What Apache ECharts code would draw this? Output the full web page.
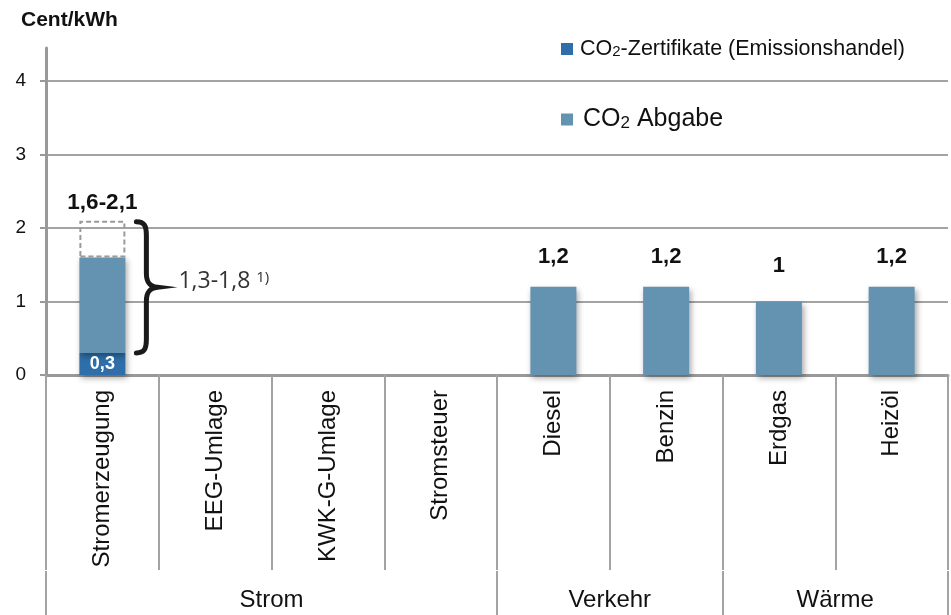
<!DOCTYPE html>
<html>
<head>
<meta charset="utf-8">
<script src="https://cdn.jsdelivr.net/npm/echarts@6/dist/echarts.min.js"></script>
<style>
  html, body { margin: 0; padding: 0; background: #fff; }
  #chart { width: 951px; height: 615px; }
</style>
</head>
<body>
<div id="chart"></div>
<script>
// Kategorien und Gruppen
const categories = ['Stromerzeugung', 'EEG-Umlage', 'KWK-G-Umlage', 'Stromsteuer', 'Diesel', 'Benzin', 'Erdgas', 'Heizöl']
const groups = ['Strom', 'Verkehr', 'Wärme']
const groupSizes = [4, 2, 2]

// Werte in Cent/kWh
const zertifikate = [0.3, '-', '-', '-', '-', '-', '-', '-']
const abgabe = [1.3, '-', '-', '-', 1.2, 1.2, 1.0, 1.2]
const spanne = [0.5, '-', '-', '-', '-', '-', '-', '-']   // gestrichelter Bereich 1,6 - 2,1
const topLabels = ['1,6-2,1', '', '', '', '1,2', '1,2', '1', '1,2']
const zertLabels = ['0,3', '', '', '', '', '', '', '']

// Klammer neben Stromerzeugung
const braceData = [[0, 0.3, 2.1]]
const braceText = '1,3-1,8'
const braceNote = '1)'

const yTicks = [0, 1, 2, 3, 4]

const serieNames = ['CO2-Zertifikate (Emissionshandel)', 'CO2 Abgabe']

// Gruppengrenzen / -mitten auf der Hilfsachse
let groupBounds = [0]
let groupMids = []
groupSizes.forEach((n, i) => {
  let start = groupBounds[i]
  groupMids.push(start + n / 2)
  groupBounds.push(start + n)
})

const gray = '#a3a3a3'
const dark = '#2e6fa9'
const light = '#6492b1'
const barShadow = { shadowBlur: 6, shadowColor: 'rgba(0,0,0,0.35)', shadowOffsetX: 2, shadowOffsetY: 3 }

function legendFmt(name) {
  return name.replace('CO2', '{n|CO}{s|2}{n|').concat('}')
}

let chart = echarts.init(document.getElementById('chart'))

let option = {
  animation: false,
  textStyle: { fontFamily: 'Liberation Sans, Arial, sans-serif' },
  title: {
    text: 'Cent/kWh',
    left: 16,
    top: 5,
    textStyle: { fontSize: 21, fontWeight: 'bold', color: '#111', fontFamily: 'Liberation Sans' }
  },
  legend: [
    {
      data: [serieNames[0]],
      left: 556,
      top: 33,
      icon: 'rect',
      itemWidth: 12,
      itemHeight: 12,
      selectedMode: false,
      formatter: legendFmt,
      textStyle: {
        padding: [0, 0, 0, 2],
        rich: {
          n: { fontSize: 21.5, color: '#111', fontFamily: 'Liberation Sans' },
          s: { fontSize: 15, color: '#111', fontFamily: 'Liberation Sans', padding: [6, 0, 0, 0] }
        }
      }
    },
    {
      data: [serieNames[1]],
      left: 556,
      top: 102,
      icon: 'rect',
      itemWidth: 12,
      itemHeight: 12,
      selectedMode: false,
      formatter: legendFmt,
      textStyle: {
        padding: [0, 0, 0, 5],
        rich: {
          n: { fontSize: 25, color: '#111', fontFamily: 'Liberation Sans' },
          s: { fontSize: 17, color: '#111', fontFamily: 'Liberation Sans', padding: [8, 0, 0, 0] }
        }
      }
    }
  ],
  grid: { left: 46, right: 3, top: 48, bottom: 240, containLabel: false },
  xAxis: [
    {
      type: 'category',
      data: categories,
      position: 'bottom',
      boundaryGap: true,
      axisLine: { lineStyle: { color: '#999', width: 3 } },
      axisTick: { show: true, interval: 0, length: 195, lineStyle: { color: gray, width: 2 } },
      axisLabel: { interval: 0, rotate: 90, margin: 15, fontSize: 24, color: '#111' }
    },
    {
      type: 'value',
      min: 0,
      max: categories.length,
      position: 'bottom',
      offset: 196,
      axisLine: { show: false },
      splitLine: { show: false },
      axisTick: { show: true, customValues: groupBounds, length: 45, lineStyle: { color: gray, width: 2 } },
      axisLabel: {
        customValues: groupMids,
        margin: 17,
        fontSize: 24,
        color: '#111',
        formatter: v => groups[groupMids.indexOf(v)] || ''
      }
    }
  ],
  yAxis: {
    type: 'value',
    min: 0,
    max: 4.45,
    interval: 1,
    axisLine: { show: true, lineStyle: { color: '#999', width: 3 } },
    axisTick: { show: true, customValues: yTicks, length: 6, lineStyle: { color: '#999', width: 2 } },
    axisLabel: { customValues: yTicks, margin: 20, fontSize: 19, color: '#111' },
    splitLine: { show: true, lineStyle: { color: gray, width: 2 } }
  },
  series: [
    {
      name: serieNames[0],
      type: 'bar',
      stack: 'co2',
      barWidth: 46,
      color: dark,
      data: zertifikate,
      itemStyle: Object.assign({ color: dark }, barShadow),
      label: {
        show: true,
        position: 'inside',
        formatter: p => zertLabels[p.dataIndex],
        color: '#fff',
        fontWeight: 'bold',
        fontSize: 18
      }
    },
    {
      name: serieNames[1],
      type: 'bar',
      stack: 'co2',
      barWidth: 46,
      color: light,
      data: abgabe.map((v, i) => ({ value: v, label: { distance: v === 1.0 ? 25 : 19 } })),
      itemStyle: Object.assign({ color: light }, barShadow),
      label: {
        show: true,
        position: 'top',
        formatter: p => (spanne[p.dataIndex] === '-' ? topLabels[p.dataIndex] : ''),
        color: '#111',
        fontWeight: 'bold',
        fontSize: 22
      }
    },
    {
      name: 'Spanne',
      type: 'bar',
      stack: 'co2',
      barWidth: 46,
      data: spanne,
      itemStyle: {
        color: 'rgba(255,255,255,0)',
        borderColor: '#9a9a9a',
        borderWidth: 2,
        borderType: [5, 3]
      },
      label: {
        show: true,
        position: 'top',
        distance: 6,
        formatter: p => topLabels[p.dataIndex],
        color: '#111',
        fontWeight: 'bold',
        fontSize: 22.5
      }
    },
    {
      type: 'custom',
      silent: true,
      clip: false,
      z: 10,
      data: braceData,
      encode: { x: 0, y: [1, 2] },
      renderItem: (params, api) => {
        let top = api.coord([api.value(0), api.value(2)])
        let bot = api.coord([api.value(0), api.value(1)])
        let x0 = top[0] + 34
        let yt = top[1] + 1
        let yb = bot[1]
        let ym = (yt + yb) / 2
        let s = x0 + 10
        let tip = x0 + 21
        let d = 'M' + x0 + ',' + yt +
          ' C' + (x0 + 8) + ',' + yt + ' ' + s + ',' + (yt + 4) + ' ' + s + ',' + (yt + 14) +
          ' L' + s + ',' + (ym - 14) +
          ' C' + s + ',' + (ym - 5) + ' ' + (s + 3) + ',' + (ym - 1) + ' ' + tip + ',' + ym +
          ' C' + (s + 3) + ',' + (ym + 1) + ' ' + s + ',' + (ym + 5) + ' ' + s + ',' + (ym + 14) +
          ' L' + s + ',' + (yb - 14) +
          ' C' + s + ',' + (yb - 4) + ' ' + (x0 + 8) + ',' + yb + ' ' + x0 + ',' + yb
        return {
          type: 'group',
          children: [
            {
              type: 'path',
              shape: { pathData: d },
              style: { fill: 'none', stroke: '#1a1a1a', lineWidth: 5, lineCap: 'round' }
            },
            {
              type: 'text',
              x: tip + 21,
              y: ym - 6,
              style: {
                text: '{a|' + braceText + ' }{b|' + braceNote + '}',
                verticalAlign: 'middle',
                align: 'left',
                rich: {
                  a: { fontSize: 23, fontFamily: 'Open Sans', fill: '#333' },
                  b: { fontSize: 15, fontFamily: 'Open Sans', fill: '#333', padding: [0, 0, 8, 0] }
                }
              }
            }
          ]
        }
      }
    }
  ]
}

chart.setOption(option)
</script>
</body>
</html>
